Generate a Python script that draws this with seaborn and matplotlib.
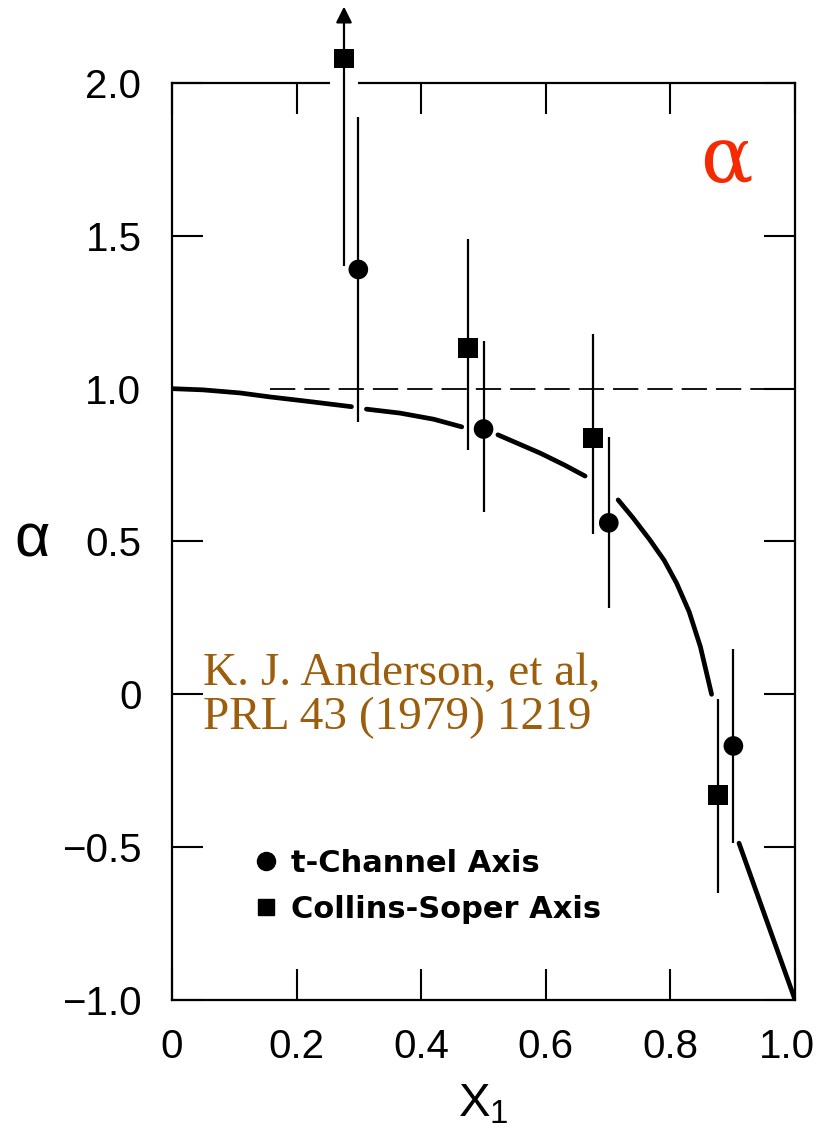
import numpy as np
import pandas as pd
import matplotlib
matplotlib.use("Agg")
import matplotlib.pyplot as plt
import matplotlib.transforms as mtransforms
import seaborn as sns
from matplotlib.lines import Line2D

# ---------------- data ----------------
tch_x = [0.299, 0.500, 0.701, 0.901]
tch_y = [1.39, 0.868, 0.561, -0.169]
tch_lo = [0.89, 0.597, 0.283, -0.486]
tch_hi = [1.89, 1.156, 0.842, 0.149]

cs_x = [0.276, 0.475, 0.676, 0.876]
cs_y = [2.08, 1.133, 0.839, -0.329]
cs_lo = [1.40, 0.80, 0.525, -0.65]
cs_hi = [2.08, 1.49, 1.179, -0.015]
cs_arrow_top = 2.25  # first point continues upward (arrow)

# theory curve, drawn in broken segments
curve_seg = [1, 1, 1, 1, 1, 1,
             2, 2, 2, 2,
             3, 3, 3, 3,
             4, 4, 4, 4, 4, 4, 4, 4,
             5, 5, 5]
curve_x = [0.0, 0.05, 0.109, 0.157, 0.22, 0.288,
           0.312, 0.366, 0.42, 0.465,
           0.523, 0.591, 0.63, 0.663,
           0.716, 0.74, 0.767, 0.79, 0.81, 0.83, 0.848, 0.866,
           0.910, 0.954, 1.0]
curve_y = [1.0, 0.996, 0.986, 0.973, 0.958, 0.941,
           0.933, 0.92, 0.90, 0.875,
           0.849, 0.789, 0.75, 0.714,
           0.636, 0.577, 0.505, 0.438, 0.363, 0.27, 0.156, 0.0,
           -0.487, -0.738, -1.0]

ref_x = [0.157, 1.0]
ref_y = [1.0, 1.0]

yticks = [-1.0, -0.5, 0.0, 0.5, 1.0, 1.5, 2.0]
yticklabels = ["\u22121.0", "\u22120.5", "0", "0.5", "1.0", "1.5", "2.0"]
xticks = [0.0, 0.2, 0.4, 0.6, 0.8, 1.0]
xticklabels = ["0", "0.2", "0.4", "0.6", "0.8", "1.0"]

legend_labels = ["t-Channel Axis", "Collins-Soper Axis"]
ref_text = "K. J. Anderson, et al,\nPRL 43 (1979) 1219"

# ---------------- style ----------------
sns.set_theme(style="ticks")
plt.rcParams["font.family"] = ["Liberation Sans", "DejaVu Sans"]
plt.rcParams["mathtext.fontset"] = "custom"
plt.rcParams["mathtext.rm"] = "Liberation Sans"
plt.rcParams["mathtext.it"] = "Liberation Sans"
plt.rcParams["text.color"] = "black"

fig = plt.figure(figsize=(8.2, 11.34), dpi=100)
ax = fig.add_axes([0.2098, 0.1182, 0.7598, 0.8086])

# curve
curve_df = pd.DataFrame({"x": curve_x, "y": curve_y, "seg": curve_seg})
sns.lineplot(data=curve_df, x="x", y="y", units="seg", estimator=None,
             color="black", linewidth=3.4, ax=ax, sort=False)

# dashed reference line
ax.plot(ref_x, ref_y, color="black", linewidth=1.3, linestyle=(0, (14, 5)))

# error bars
for x, lo, hi in zip(tch_x, tch_lo, tch_hi):
    ax.plot([x, x], [lo, hi], color="black", linewidth=1.6, clip_on=False,
            solid_capstyle="butt", zorder=4)
for x, lo, hi in zip(cs_x, cs_lo, cs_hi):
    ax.plot([x, x], [lo, hi], color="black", linewidth=1.6, clip_on=False,
            solid_capstyle="butt", zorder=4)
ax.annotate("", xy=(cs_x[0], cs_arrow_top), xytext=(cs_x[0], cs_y[0]),
            annotation_clip=False, zorder=4,
            arrowprops=dict(arrowstyle="-|>", color="black", lw=1.6,
                            mutation_scale=24, shrinkA=0, shrinkB=0))
# small gap in the top frame where the bar passes through
ax.plot([cs_x[0] - 0.022, cs_x[0] + 0.022], [2.0, 2.0], color="white",
        linewidth=4, clip_on=False, zorder=3, solid_capstyle="butt")

# markers
pts = pd.DataFrame({
    "x": tch_x + cs_x,
    "y": tch_y + cs_y,
    "kind": [legend_labels[0]] * 4 + [legend_labels[1]] * 4,
})
sns.scatterplot(data=pts, x="x", y="y", style="kind",
                markers={legend_labels[0]: "o", legend_labels[1]: "s"},
                color="black", s=200, edgecolor="black", linewidth=0,
                ax=ax, legend=False, zorder=5)
for coll in ax.collections:
    coll.set_clip_on(False)
    coll.set_zorder(5)

# axes
ax.set_xlim(0, 1.0)
ax.set_ylim(-1.0, 2.0)
ax.set_xticks(xticks)
ax.set_xticklabels(xticklabels)
ax.set_yticks(yticks)
ax.set_yticklabels(yticklabels)
ax.tick_params(direction="in", length=22, width=1.5, top=True, right=True,
               pad=22, labelsize=29, colors="black", labelcolor="black")
ax.tick_params(axis="x", pad=20)
for sp in ax.spines.values():
    sp.set_linewidth(1.6)
    sp.set_color("black")
    sp.set_visible(True)
# keep the last x label inside the canvas
last_lbl = ax.get_xticklabels()[-1]
last_lbl.set_transform(last_lbl.get_transform() +
                       mtransforms.ScaledTranslation(-8 / 100, 0, fig.dpi_scale_trans))

ax.set_xlabel("$\\mathregular{X_1}$", fontsize=34, labelpad=12, color="black")
ax.set_ylabel("")
ax.text(-0.225, 0.5, "\u03b1", transform=ax.transAxes, fontsize=44,
        ha="center", va="center", color="black")

# legend
handles = [
    Line2D([], [], marker="o", linestyle="none", color="black", markersize=13),
    Line2D([], [], marker="s", linestyle="none", color="black", markersize=11),
]
leg = ax.legend(handles, legend_labels, loc="upper left",
                bbox_to_anchor=(0.117, 0.178), frameon=False,
                prop={"family": "DejaVu Sans", "weight": "bold", "size": 22},
                handlelength=0.6, handletextpad=0.5, labelspacing=0.55,
                borderaxespad=0)
for t in leg.get_texts():
    t.set_color("black")

# annotations
ax.text(0.889, 0.915, "\u03b1", transform=ax.transAxes, fontsize=56,
        family="DejaVu Serif", color="#f52a00", ha="center", va="center")
ax.text(0.05, -0.005, ref_text, transform=ax.transData, fontsize=34,
        family="Liberation Serif", color="#9c5d0c", ha="left", va="center",
        linespacing=1.05)

fig.savefig("out.png", dpi=100)
